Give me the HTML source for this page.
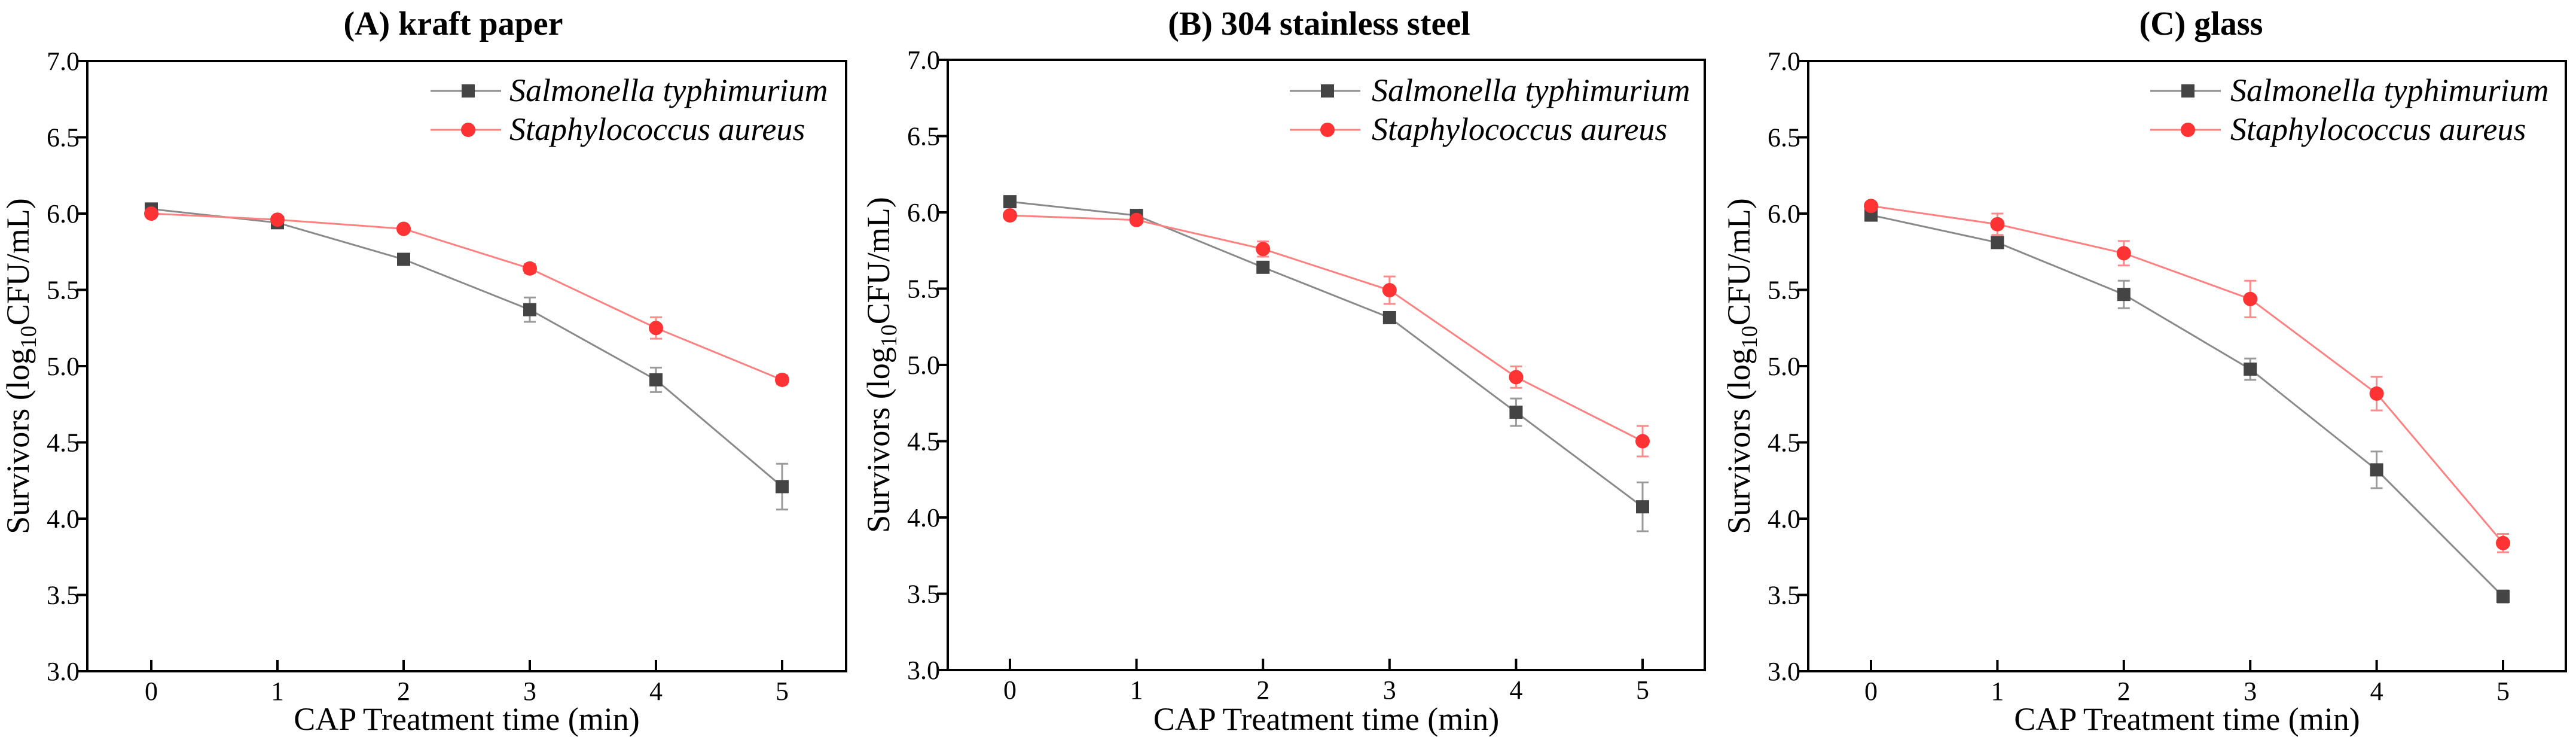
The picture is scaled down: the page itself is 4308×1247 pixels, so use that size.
<!DOCTYPE html>
<html><head><meta charset="utf-8">
<style>
html,body{margin:0;padding:0;background:#fff;}
svg{display:block;}
svg text{font-family:"Liberation Serif","Times New Roman","DejaVu Serif",serif !important;fill:#000;}
</style></head>
<body>
<svg id="fig" xmlns="http://www.w3.org/2000/svg" width="4308" height="1247" viewBox="0 0 4308 1247" font-family="'Liberation Serif', 'Times New Roman', serif"></svg>
<script>
const times = [0, 1, 2, 3, 4, 5];
const yTicks = [3.0, 3.5, 4.0, 4.5, 5.0, 5.5, 6.0, 6.5, 7.0];
const panelTitles = ["(A) kraft paper", "(B) 304 stainless steel", "(C) glass"];
const seriesNames = ["Salmonella typhimurium", "Staphylococcus aureus"];
const salmA = [6.03, 5.94, 5.70, 5.37, 4.91, 4.21];
const salmAErr = [0.02, 0.02, 0.02, 0.08, 0.08, 0.15];
const staphA = [6.00, 5.96, 5.90, 5.64, 5.25, 4.91];
const staphAErr = [0.02, 0.02, 0.02, 0.03, 0.07, 0.03];
const salmB = [6.07, 5.98, 5.64, 5.31, 4.69, 4.07];
const salmBErr = [0.02, 0.02, 0.03, 0.03, 0.09, 0.16];
const staphB = [5.98, 5.95, 5.76, 5.49, 4.92, 4.50];
const staphBErr = [0.02, 0.02, 0.05, 0.09, 0.07, 0.10];
const salmC = [5.99, 5.81, 5.47, 4.98, 4.32, 3.49];
const salmCErr = [0.02, 0.03, 0.09, 0.07, 0.12, 0.04];
const staphC = [6.05, 5.93, 5.74, 5.44, 4.82, 3.84];
const staphCErr = [0.02, 0.07, 0.08, 0.12, 0.11, 0.06];

const NS = "http://www.w3.org/2000/svg";
const FONT = "'Liberation Serif', 'Times New Roman', serif";
const svg = document.getElementById("fig");
function mk(tag, attrs, parent) {
  const e = document.createElementNS(NS, tag);
  for (const k in attrs) e.setAttribute(k, attrs[k]);
  if (tag === "text") e.setAttribute("font-family", FONT);
  (parent || svg).appendChild(e);
  return e;
}
const layouts = [
  {left:146, right:1415, top:102, bottom:1122, x0:253, dx:211, titleX:758, legMark:783, legText:852},
  {left:1585, right:2851, top:100, bottom:1120, x0:1689, dx:211.6, titleX:2206, legMark:2220, legText:2294},
  {left:3024, right:4291, top:102, bottom:1122, x0:3129, dx:211.4, titleX:3681, legMark:3659, legText:3730}
];
const panelData = [
  [salmA, salmAErr, staphA, staphAErr],
  [salmB, salmBErr, staphB, staphBErr],
  [salmC, salmCErr, staphC, staphCErr]
];
const letters = ["a","b","c"];
layouts.forEach((L, p) => {
  const g = mk("g", {});
  
  
  const xS = t => L.x0 + t * L.dx;
  const yS = v => L.bottom - (v - 3.0) / 4.0 * (L.bottom - L.top);

  const title = mk("text", {x:L.titleX, y:58, "text-anchor":"middle", "font-size":56, "font-weight":"bold"}, g);
  title.textContent = panelTitles[p];
  
  

  yTicks.forEach(v => {
    const y = yS(v);
    const tk = mk("line", {x1:L.left - 18, x2:L.left, y1:y, y2:y, stroke:"#000", "stroke-width":4}, g);
    
    
    const lb = mk("text", {x:L.left - 13, y:y + 15, "text-anchor":"end", "font-size":44}, g);
    lb.textContent = v.toFixed(1);
    
    
  });
  times.forEach(t => {
    const x = xS(t);
    const tk = mk("line", {x1:x, x2:x, y1:L.bottom, y2:L.bottom - 19, stroke:"#000", "stroke-width":4}, g);
    
    
    const lb = mk("text", {x:x, y:L.bottom + 48, "text-anchor":"middle", "font-size":44}, g);
    lb.textContent = String(t);
    
    
  });
  const frame = mk("rect", {x:L.left, y:L.top, width:L.right - L.left, height:L.bottom - L.top, fill:"none", stroke:"#000", "stroke-width":4}, g);
  
  

  const xt = mk("text", {x:(L.left + L.right) / 2, y:1220, "text-anchor":"middle", "font-size":54}, g);
  xt.textContent = "CAP Treatment time (min)";
  
  

  const yt = mk("text", {x:0, y:0, "text-anchor":"middle", "font-size":54, transform:"translate(" + (L.left - 98) + "," + ((L.top + L.bottom) / 2) + ") rotate(-90)"}, g);
  yt.innerHTML = 'Survivors (log<tspan font-size="38" dy="12">10</tspan><tspan dy="-12">CFU/mL)</tspan>';
  
  

  const D = panelData[p];
  const styles = [
    {line:"#8a8a8a", err:"#9a9a9a", fill:"#444444", shape:"square", vals:D[0], errs:D[1]},
    {line:"#ff8080", err:"#ff8a8a", fill:"#ff3333", shape:"circle", vals:D[2], errs:D[3]}
  ];
  styles.forEach((s, si) => {
    const sg = mk("g", {}, g);
    
    
    const pts = times.map((t, i) => xS(t) + "," + yS(s.vals[i])).join(" ");
    const pl = mk("polyline", {points:pts, fill:"none", stroke:s.line, "stroke-width":3}, sg);
    
    
    times.forEach((t, i) => {
      const x = xS(t), y = yS(s.vals[i]);
      const y1 = yS(s.vals[i] + s.errs[i]), y2 = yS(s.vals[i] - s.errs[i]);
      const eb = mk("path", {d:"M" + x + " " + y1 + "V" + y2 + "M" + (x - 10) + " " + y1 + "H" + (x + 10) + "M" + (x - 10) + " " + y2 + "H" + (x + 10), stroke:s.err, "stroke-width":3, fill:"none"}, sg);
      
      
      let m;
      if (s.shape === "square") m = mk("rect", {x:x - 11, y:y - 11, width:22, height:22, fill:s.fill}, sg);
      else m = mk("circle", {cx:x, cy:y, r:12, fill:s.fill}, sg);
      
      
    });
    const ly = si === 0 ? 152 : 217;
    const lg = mk("g", {}, g);
    
    
    mk("line", {x1:L.legMark - 63, x2:L.legMark + 55, y1:ly, y2:ly, stroke:s.line, "stroke-width":3}, lg);
    if (s.shape === "square") mk("rect", {x:L.legMark - 11, y:ly - 11, width:22, height:22, fill:s.fill}, lg);
    else mk("circle", {cx:L.legMark, cy:ly, r:12, fill:s.fill}, lg);
    const lt = mk("text", {x:L.legText, y:ly + 17, "font-size":54, "font-style":"italic"}, lg);
    lt.textContent = seriesNames[si];
  });
});
</script>
</body></html>
